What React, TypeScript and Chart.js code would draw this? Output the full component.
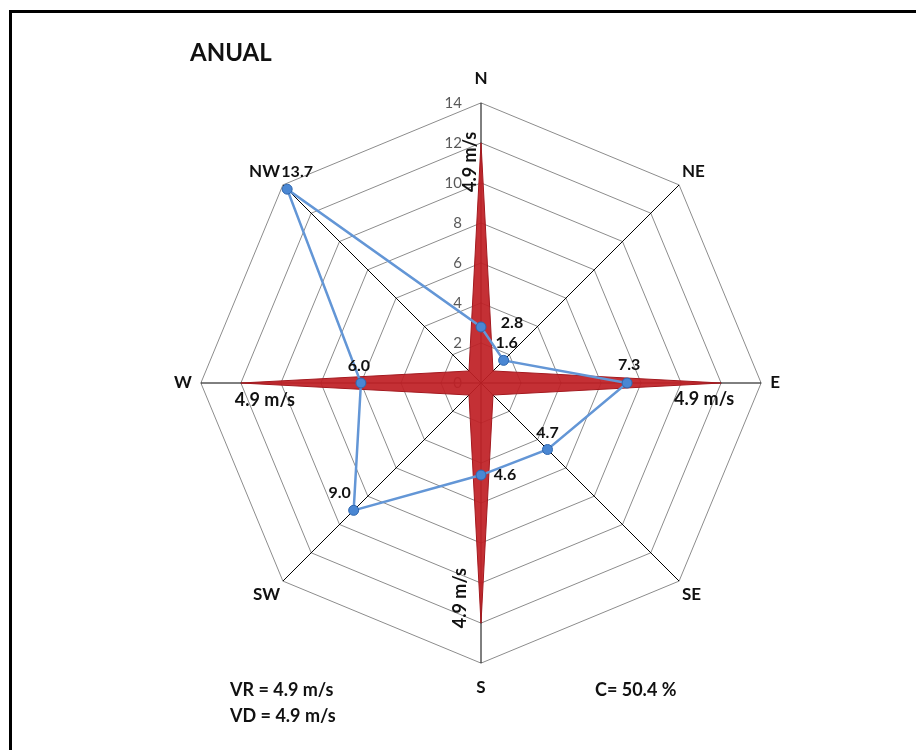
import React, { useEffect, useRef } from "react";
import { Chart, registerables } from "chart.js";

Chart.register(...registerables);

// ---- data ----
const directions = ["N", "NE", "E", "SE", "S", "SW", "W", "NW"];
const frequencyValues = [2.8, 1.6, 7.3, 4.7, 4.6, 9.0, 6.0, 13.7];
const speedShapeValues = [12, 0.85, 12, 0.85, 12, 0.85, 12, 0.85];
const speedLabels = ["4.9 m/s", "", "4.9 m/s", "", "4.9 m/s", "", "4.9 m/s", ""];
const tickValues = [0, 2, 4, 6, 8, 10, 12, 14];
const chartTitle = "ANUAL";
const notesLeft = ["VR = 4.9 m/s", "VD = 4.9 m/s"];
const noteRight = "C= 50.4 %";

// ---- style ----
const FONT = "Lato, 'Liberation Sans', sans-serif";
const FREQ_LABEL_OFFSETS = [
  [31, -4], [3, -18], [2, -18], [0, -17], [24, 0], [-14, -17], [-2, -17], [10, -17],
];
const SPEED_LABEL_OFFSETS = [
  [-11, 19, -90], [0, 0, 0], [-17, 16, 0], [0, 0, 0], [-21, -25, -90], [0, 0, 0], [24, 17, 0], [0, 0, 0],
];

const tickPlugin = {
  id: "sideTicks",
  beforeDatasetsDraw(chart: any) {
    const scale = chart.scales.r;
    const ctx = chart.ctx;
    ctx.save();
    ctx.font = `15px ${FONT}`;
    ctx.fillStyle = "#595959";
    ctx.textAlign = "right";
    ctx.textBaseline = "middle";
    tickValues.forEach((v) => {
      const d = scale.getDistanceFromCenterForValue(v);
      ctx.fillText(String(v), scale.xCenter - 19, scale.yCenter - d);
    });
    ctx.restore();
  },
};

const labelPlugin = {
  id: "valueLabels",
  afterDatasetsDraw(chart: any) {
    const ctx = chart.ctx;
    ctx.save();
    ctx.textAlign = "center";
    ctx.textBaseline = "middle";
    ctx.fillStyle = "#111";
    const speedMeta = chart.getDatasetMeta(1);
    ctx.font = `bold 18px ${FONT}`;
    speedMeta.data.forEach((el: any, i: number) => {
      const text = speedLabels[i];
      if (!text) return;
      const [dx, dy, rot] = SPEED_LABEL_OFFSETS[i];
      ctx.save();
      ctx.translate(el.x + dx, el.y + dy);
      ctx.rotate((rot * Math.PI) / 180);
      ctx.fillText(text, 0, 0);
      ctx.restore();
    });
    ctx.font = `bold 16px ${FONT}`;
    const freqMeta = chart.getDatasetMeta(0);
    freqMeta.data.forEach((el: any, i: number) => {
      const [dx, dy] = FREQ_LABEL_OFFSETS[i];
      ctx.fillText(frequencyValues[i].toFixed(1), el.x + dx, el.y + dy);
    });
    ctx.restore();
  },
  afterDraw(chart: any) {
    const ctx = chart.ctx;
    ctx.save();
    ctx.fillStyle = "#111";
    ctx.textBaseline = "middle";
    ctx.textAlign = "left";
    ctx.font = `bold 24px ${FONT}`;
    ctx.fillText(chartTitle, 190, 53);
    ctx.font = `bold 18px ${FONT}`;
    notesLeft.forEach((t, i) => ctx.fillText(t, 230, 690 + i * 26));
    ctx.fillText(noteRight, 595, 690);
    ctx.restore();
  },
};

export default function App() {
  const ref = useRef<HTMLCanvasElement>(null);
  useEffect(() => {
    if (!ref.current) return;
    const chart = new Chart(ref.current, {
      type: "radar",
      data: {
        labels: directions,
        datasets: [
          {
            label: "Frecuencia",
            data: frequencyValues,
            borderColor: "#6396D6",
            borderWidth: 2.5,
            backgroundColor: "rgba(0,0,0,0)",
            fill: false,
            pointRadius: 5,
            pointBackgroundColor: "#4A87D3",
            pointBorderColor: "#2E66AE",
            pointBorderWidth: 1,
          },
          {
            label: "Velocidad",
            data: speedShapeValues,
            borderColor: "#A3181E",
            borderWidth: 1,
            backgroundColor: "rgba(192,32,38,0.93)",
            fill: true,
            pointRadius: 0,
          },
        ],
      },
      options: {
        animation: false,
        responsive: false,
        maintainAspectRatio: false,
        layout: { padding: { left: 170, right: 132, top: 49, bottom: 33 } },
        plugins: { legend: { display: false }, tooltip: { enabled: false } },
        scales: {
          r: {
            min: 0,
            max: 14,
            ticks: { stepSize: 2, display: false },
            grid: { color: "#8c8c8c", lineWidth: 1 },
            angleLines: { color: "#000", lineWidth: 1 },
            pointLabels: {
              color: "#111",
              font: { family: FONT, size: 17, weight: "bold" },
              padding: (ctx: any) => (ctx.index % 4 === 0 ? 14 : ctx.index % 2 === 0 ? 9 : 4),
            },
          },
        },
      },
      plugins: [tickPlugin, labelPlugin],
    });
    return () => chart.destroy();
  }, []);

  return (
    <div style={{ position: "fixed", left: 0, top: 0, width: 916, height: 750, background: "#fff", overflow: "hidden" }}>
      <canvas ref={ref} width={916} height={750} style={{ position: "absolute", left: 0, top: 0, width: 916, height: 750 }} />
      <div style={{ position: "absolute", left: 9, top: 10, width: 1000, height: 1000, borderTop: "3px solid #000", borderLeft: "3px solid #000", pointerEvents: "none" }} />
    </div>
  );
}
